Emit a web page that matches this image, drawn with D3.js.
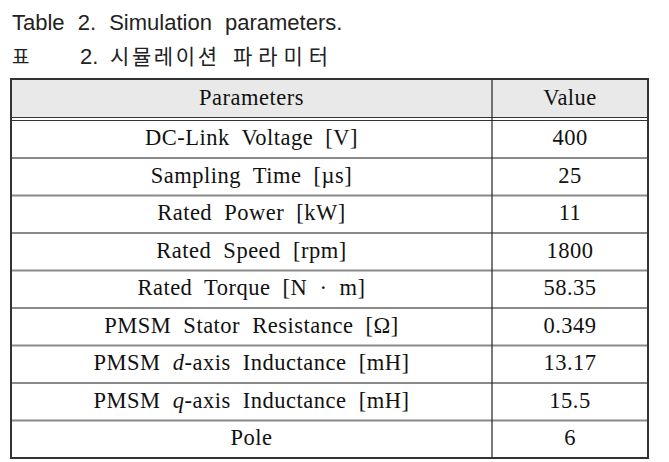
<!DOCTYPE html>
<html><head><meta charset="utf-8">
<script src="https://cdn.jsdelivr.net/npm/d3@7"></script>
<style>body{margin:0;background:#fff}</style>
</head><body>
<script>
const titleEn = "Table 2. Simulation parameters.";
const titleKoLabel = "표";
const titleKo = ["2.", "시뮬레이션", "파라미터"];
const headers = ["Parameters", "Value"];
const params = [
  ["DC-Link Voltage [V]"],
  ["Sampling Time [µs]"],
  ["Rated Power [kW]"],
  ["Rated Speed [rpm]"],
  ["Rated Torque [N · m]"],
  ["PMSM Stator Resistance [Ω]"],
  ["PMSM ", {i:"d"}, "-axis Inductance [mH]"],
  ["PMSM ", {i:"q"}, "-axis Inductance [mH]"],
  ["Pole"]
];
const values = ["400", "25", "11", "1800", "58.35", "0.349", "13.17", "15.5", "6"];

(function(){
const W = 669, H = 462;
const svg = d3.select("body").append("svg").attr("width", W).attr("height", H);

const left = 11, right = 648, split = 492, tTop = 79, headBottom = 118, tableBottom = 458;
const x = d3.scaleOrdinal().domain(headers).range([(left+split)/2, (split+right)/2]);
const y = d3.scaleBand().domain(d3.range(values.length)).range([120.5, tableBottom]);

const sans = "'Liberation Sans', Arial, sans-serif";
const serif = "'Liberation Serif', 'Times New Roman', serif";
const cjk = "'Noto Sans CJK KR', sans-serif";

svg.append("text").attr("x", 12).attr("y", 30).attr("font-family", sans).attr("font-size", 22)
  .attr("fill", "#222").attr("word-spacing", 7).attr("xml:space","preserve").text(titleEn);
svg.append("text").attr("x", 12).attr("y", 64).attr("font-family", cjk).attr("font-size", 19)
  .attr("fill", "#222").text(titleKoLabel);
const koX = [80, 110, 233], koLen = [null, 107, 95];
titleKo.forEach((s, i) => {
  const t = svg.append("text").attr("x", koX[i]).attr("y", 64).attr("font-family", i === 0 ? sans : cjk)
    .attr("font-size", i === 0 ? 22 : 21).attr("fill", "#222").text(s);
  if (koLen[i]) t.attr("textLength", koLen[i]).attr("lengthAdjust", "spacing");
});

svg.append("rect").attr("x", left).attr("y", tTop).attr("width", right-left).attr("height", headBottom-tTop).attr("fill", "#e9e9e9");

svg.selectAll("line.row").data(d3.range(1, values.length)).join("line").attr("class","row")
  .attr("x1", left).attr("x2", right).attr("y1", d => y(d)).attr("y2", d => y(d))
  .attr("stroke", "#8a8a8a").attr("stroke-width", 2);

[headBottom-0.5, headBottom+2.5].forEach(v => {
  svg.append("line").attr("x1", left).attr("x2", right).attr("y1", v).attr("y2", v).attr("stroke", "#333").attr("stroke-width", 1.2);
});

svg.append("line").attr("x1", split).attr("x2", split).attr("y1", tTop).attr("y2", tableBottom).attr("stroke", "#222").attr("stroke-width", 1.2);

svg.append("rect").attr("x", left).attr("y", tTop).attr("width", right-left).attr("height", tableBottom-tTop)
  .attr("fill", "none").attr("stroke", "#333").attr("stroke-width", 2);

const fs = 22.5, ls = 0.5, ws = 6;
function styl(sel){
  return sel.attr("text-anchor","middle").attr("font-family", serif).attr("font-size", fs)
    .attr("letter-spacing", ls).attr("word-spacing", ws).attr("fill","#111");
}
styl(svg.selectAll("text.head").data(headers).join("text").attr("class","head")
  .attr("x", d => x(d)).attr("y", (tTop+headBottom)/2 + 6.5)).text(d => d);

const pt = styl(svg.selectAll("text.param").data(params).join("text").attr("class","param")
  .attr("x", x(headers[0])).attr("y", (d,i) => y(i) + y.bandwidth()/2 + 6));
pt.each(function(d){
  const t = d3.select(this);
  d.forEach(p => {
    if (typeof p === "string") t.append("tspan").attr("xml:space","preserve").text(p);
    else t.append("tspan").attr("font-style","italic").text(p.i);
  });
});

styl(svg.selectAll("text.val").data(values).join("text").attr("class","val")
  .attr("x", x(headers[1])).attr("y", (d,i) => y(i) + y.bandwidth()/2 + 6)).text(d => d);
})();
</script>
</body></html>
